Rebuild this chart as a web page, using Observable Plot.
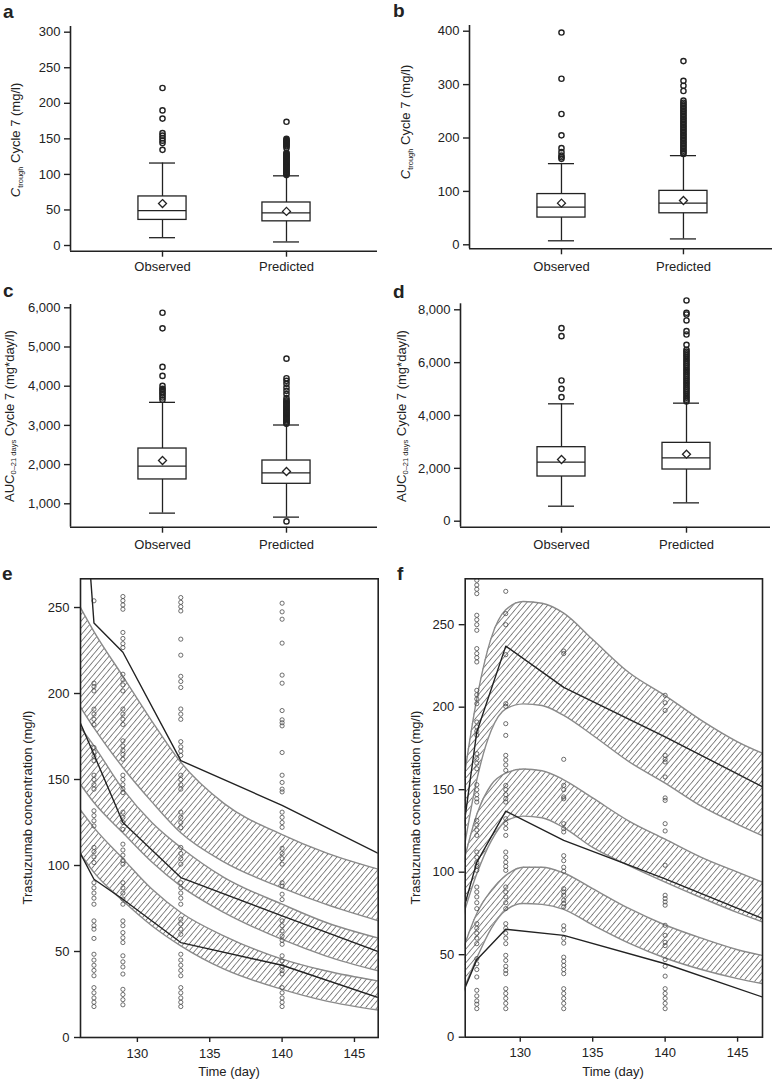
<!DOCTYPE html>
<html>
<head>
<meta charset="utf-8">
<script src="https://cdn.jsdelivr.net/npm/d3@7"></script>
<script src="https://cdn.jsdelivr.net/npm/@observablehq/plot@0.6"></script>
<style>
  body { margin: 0; background: #fff; }
  #wrap { position: relative; width: 777px; height: 1081px; overflow: hidden; background: #fff; }
</style>
</head>
<body>
<div id="wrap"></div>
<script>
// ---------------- DATA ----------------
const boxCats = ["Observed", "Predicted"];

// Panel a: Ctrough cycle 7 (mg/l), dose group 1
const aLo = [11, 5], aQ1 = [36, 34], aMed = [49, 46], aQ3 = [69, 60.5], aHi = [116, 98], aMean = [59, 48];
const aOutObs = [134.5, 144, 147.5, 151, 154.5, 158, 178.5, 190, 221.5];
const aOutPred = [99, 100.5, 102, 103.5, 105, 106.5, 108, 109.5, 111, 112.5, 114, 115.5, 117, 118.5, 120, 121.5, 123, 124.5, 126, 127.5, 129, 130.5, 137, 139.5, 141, 142.5, 144, 145.5, 147, 148.5, 150, 174];
const aTicks = [0, 50, 100, 150, 200, 250, 300];

// Panel b: Ctrough cycle 7 (mg/l), dose group 2
const bLo = [7.5, 11], bQ1 = [51, 59], bMed = [70.5, 78], bQ3 = [95, 101], bHi = [152, 167], bMean = [78, 83];
const bOutObs = [161, 164, 167, 173.5, 181, 205, 245, 311, 397.5];
const bOutPred = [170, 173, 176, 179, 182, 185, 188, 191, 194, 197, 200, 203, 206, 209, 212, 215, 218, 221, 224, 227, 230, 233, 236, 239, 242, 245, 248, 251, 254, 257, 260, 263, 266, 270, 288, 298, 307, 344];
const bTicks = [0, 100, 200, 300, 400];

// Panel c: AUC 0-21 days cycle 7 (mg*day/l), dose group 1
const cLo = [762, 660], cQ1 = [1621, 1510], cMed = [1960, 1790], cQ3 = [2410, 2104], cHi = [3588, 3010], cMean = [2104, 1824];
const cOutObs = [3653, 3712, 3763, 3814, 3850, 3907, 3934, 4008, 4263, 4492, 5475, 5873];
const cOutPred = [551, 3040, 3070, 3100, 3130, 3160, 3190, 3220, 3250, 3280, 3310, 3340, 3370, 3400, 3430, 3460, 3490, 3520, 3550, 3580, 3610, 3640, 3695, 3800, 3881, 3966, 4060, 4136, 4203, 4703];
const cTicks = [1000, 2000, 3000, 4000, 5000, 6000];

// Panel d: AUC 0-21 days cycle 7 (mg*day/l), dose group 2
const dLo = [568, 694], dQ1 = [1691, 1956], dMed = [2233, 2397], dQ3 = [2801, 2965], dHi = [4442, 4467], dMean = [2334, 2536];
const dOutObs = [4694, 5010, 5325, 7003, 7306];
const dOutPred = [4530, 4600, 4670, 4740, 4810, 4880, 4950, 5020, 5090, 5160, 5230, 5300, 5370, 5440, 5510, 5580, 5650, 5720, 5790, 5860, 5930, 6000, 6070, 6140, 6210, 6280, 6350, 6420, 6490, 6675, 7066, 7192, 7596, 7823, 7886, 8353];
const dTicks = [0, 2000, 4000, 6000, 8000];

// Panels e/f: visual predictive checks
const timeTicks = [130, 135, 140, 145];
const concTicks = [0, 50, 100, 150, 200, 250];
const obsLineDays = [126, 127, 129, 133, 140, 147];
const sampleDays = [127, 129, 133, 140];

// e: observed percentile lines
const eObs95 = [356, 241, 224, 161, 135, 105.5];
const eObs50 = [184, 164.5, 125, 93, 70.7, 48.8];
const eObs5 = [108, 92, 80.4, 55.2, 42, 22.2];
// e: prediction interval bands
const eBandDays = [126, 127, 129, 131, 133, 136, 140, 143, 147];
const eP95Hi = [251, 236, 210, 184, 160, 136, 118, 107.5, 97];
const eP95Lo = [193, 180, 157, 137, 119, 102, 87, 77.5, 67];
const eP50Hi = [181, 169.6, 144.4, 125, 110.5, 93, 77.5, 67, 57];
const eP50Lo = [148, 136.6, 119, 102, 88, 72.6, 57, 47.5, 38];
const eP5Hi = [133, 122, 104, 86.3, 72.7, 59, 45.6, 38.8, 32.4];
const eP5Lo = [107.6, 96, 79.5, 65, 53.3, 39.7, 28, 21.3, 15.5];
// e: observed concentrations
const eConc127 = [253.9, 206, 204, 201.5, 190.9, 188, 185, 182, 168.6, 166, 163.5, 160.9, 152.5, 150, 147, 144.4, 131.8, 129, 126, 123, 110.5, 108, 105, 101.7, 90, 87, 84, 81, 77.5, 67.8, 65, 63, 57.6, 48.4, 45, 42, 39, 35.9, 29, 26, 23, 20.5, 18];
const eConc129 = [256.4, 254, 251.5, 249, 235.5, 232, 229, 226.7, 211.2, 208, 205, 201.5, 191, 188, 185, 182, 172.5, 169.5, 167, 164.5, 161.8, 152.5, 150, 147, 144.5, 142.4, 131, 128, 125, 121, 112.4, 109, 106, 103, 100.8, 90, 87, 84, 80.5, 77.5, 67.8, 65, 61, 58, 55.2, 47.5, 44, 41, 36.9, 28, 25, 22, 19];
const eConc133 = [255.8, 253, 250.5, 248, 231.6, 222.3, 210, 207, 203.5, 191, 188, 185, 172, 169, 166.5, 164, 152.5, 150, 147, 144.4, 131, 128, 125, 122, 110.5, 107, 104, 100.8, 90, 87, 84, 81, 77.5, 68.8, 66, 63, 60, 48.4, 45, 42, 39, 35.9, 29, 26, 23, 20.5, 18];
const eConc140 = [252.5, 247.5, 243.2, 229.3, 210.7, 206, 190.1, 184.7, 183, 181.2, 165.7, 152.5, 148.3, 144.4, 142.8, 131, 128, 125, 122.2, 110, 107, 104, 100.8, 90, 88, 83.3, 80.2, 67.8, 65, 62, 59, 56.5, 54.2, 47.5, 44.5, 41.5, 39, 36.9, 29, 26, 23, 20.5, 18];

// f: observed percentile lines
const fObs95 = [121, 185, 237, 212, 182, 150.5];
const fObs50 = [75, 106, 137, 119.3, 96, 71];
const fObs5 = [26, 47, 65.4, 61.7, 44.5, 23.5];
// f: prediction interval bands
const fBandDays = [126, 127, 128, 129, 130.2, 131.5, 133, 135, 137.5, 140, 142.5, 145, 147];
const fP95Hi = [150, 205, 242, 259, 264, 263, 257, 241, 221, 207, 192, 179, 171];
const fP95Lo = [108, 156, 186, 199, 202, 201, 195, 183, 167, 154, 140, 129, 121];
const fP50Hi = [103, 135, 153, 160, 162.5, 161.5, 156, 145, 131, 120, 109, 100, 93];
const fP50Lo = [72, 99, 119, 131, 134, 133, 127, 115, 104, 94, 84.5, 75.5, 69];
const fP5Hi = [52, 75, 89, 98, 103, 103, 99.5, 90, 78, 68, 60, 53, 49];
const fP5Lo = [27, 48, 66, 77, 81, 80.5, 77.5, 68, 57, 48, 41, 35.5, 32];
// f: observed concentrations
const fConc127 = [276.9, 274, 271.5, 268.8, 255.7, 253, 250, 246.6, 235.5, 232.5, 230, 227.4, 210.2, 207.5, 205, 202.1, 191, 188, 185.5, 183, 171.8, 169, 166, 162.7, 153, 150, 147, 144.5, 142.5, 131.4, 128.5, 125.5, 122.3, 112.2, 109, 106, 103.5, 101.1, 91, 88, 85, 81.5, 77.9, 68.8, 66, 63, 60, 56.7, 47.6, 44.5, 41, 36.5, 28.4, 25, 22, 20, 17.3];
const fConc129 = [270.2, 256.7, 250, 231.8, 202.1, 200.5, 190, 182.9, 170.8, 168, 165, 161.7, 152.6, 150, 147, 144.5, 142.5, 132.4, 129.5, 126.5, 122.3, 112.2, 109, 106, 103.5, 101.1, 91, 88, 85, 81.5, 77.9, 68.8, 66, 63, 60, 56.7, 49.6, 46.5, 43, 40.5, 38.5, 29.4, 26.5, 23.5, 20.5, 17.3];
const fConc133 = [234, 232.5, 168.4, 152.6, 150, 145.6, 144.5, 129.4, 126.4, 124.4, 110, 107, 103, 100.5, 90, 88, 86, 83, 81, 79, 67.5, 65, 60, 57, 48.5, 46, 43.5, 41, 38.5, 29.4, 26.5, 23.5, 20.5, 17.3];
const fConc140 = [207.2, 202.7, 198, 170.8, 168.4, 166.8, 157.7, 145, 143.5, 129.4, 125, 104.2, 86, 84, 82, 80, 67.8, 61.7, 57.5, 55.5, 47, 43, 37, 29.4, 26.5, 23.5, 20.5, 17.3];

// ---------------- DRAWING ----------------
const FONT = '"Liberation Sans", Arial, Helvetica, sans-serif';
const INK = "#222";
const wrap = document.getElementById("wrap");
const NS = "http://www.w3.org/2000/svg";

function place(svg, left, top) {
  svg.style.position = "absolute";
  svg.style.left = left + "px";
  svg.style.top = top + "px";
  wrap.appendChild(svg);
}

function boxPanel(p) {
  const stats = boxCats.map((cat, i) => ({
    i, lo: p.lo[i], q1: p.q1[i], med: p.med[i], q3: p.q3[i], hi: p.hi[i], mean: p.mean[i]
  }));
  const outs = [...p.outObs.map(v => ({i: 0, v})), ...p.outPred.map(v => ({i: 1, v}))];
  const hw = p.boxHalf, cw = p.capHalf;
  const svg = Plot.plot({
    width: p.width, height: p.height,
    marginLeft: p.mL, marginRight: p.mR, marginTop: p.mT, marginBottom: p.mB,
    style: {fontFamily: FONT, fontSize: "13px", color: INK, background: "transparent", overflow: "visible"},
    x: {type: "linear", domain: p.xDomain},
    y: {type: "linear", domain: p.yDomain},
    marks: [
      Plot.ruleY([p.yDomain[0]], {stroke: INK, strokeWidth: 1.6}),
      Plot.ruleX([p.xDomain[0]], {stroke: INK, strokeWidth: 1.6}),
      Plot.axisY({ticks: p.yTicks, tickFormat: p.fmt, tickSize: 6, tickPadding: 4, strokeWidth: 1.4, label: null}),
      Plot.axisX({ticks: [0, 1], tickFormat: i => boxCats[i], tickSize: 6, tickPadding: p.xPad, strokeWidth: 1.4, label: null}),
      Plot.ruleX(stats, {x: "i", y1: "lo", y2: "hi", stroke: INK, strokeWidth: 1.3}),
      Plot.ruleY(stats, {y: "lo", x1: d => d.i - cw, x2: d => d.i + cw, stroke: INK, strokeWidth: 1.3}),
      Plot.ruleY(stats, {y: "hi", x1: d => d.i - cw, x2: d => d.i + cw, stroke: INK, strokeWidth: 1.3}),
      Plot.rect(stats, {x1: d => d.i - hw, x2: d => d.i + hw, y1: "q1", y2: "q3", fill: "white", stroke: INK, strokeWidth: 1.3}),
      Plot.ruleY(stats, {y: "med", x1: d => d.i - hw, x2: d => d.i + hw, stroke: INK, strokeWidth: 1.3}),
      Plot.dot(outs, {x: "i", y: "v", r: 2.6, stroke: INK, strokeWidth: 1.4, fill: "none"}),
      Plot.dot(stats, {x: "i", y: "mean", symbol: "diamond2", r: 3.6, fill: "white", stroke: INK, strokeWidth: 1.3})
    ]
  });
  place(svg, p.left, p.top);
}

function vpcPanel(p) {
  const bands = [[p.b95lo, p.b95hi], [p.b50lo, p.b50hi], [p.b5lo, p.b5hi]]
    .map(([lo, hi]) => p.bandDays.map((d, j) => ({d, lo: lo[j], hi: hi[j]})));
  const pts = sampleDays.flatMap((d, k) => p.conc[k].map(v => ({d, v})));
  const lines = [p.l95, p.l50, p.l5].map(vals => obsLineDays.map((d, j) => ({d, v: vals[j]})));
  const marks = [];
  for (const bd of bands) {
    marks.push(Plot.areaY(bd, {x: "d", y1: "lo", y2: "hi", fill: `url(#${p.hatchId})`, curve: "monotone-x", clip: true}));
    marks.push(Plot.lineY(bd, {x: "d", y: "lo", stroke: "#8a8a8a", strokeWidth: 1.4, curve: "monotone-x", clip: true}));
    marks.push(Plot.lineY(bd, {x: "d", y: "hi", stroke: "#8a8a8a", strokeWidth: 1.4, curve: "monotone-x", clip: true}));
  }
  marks.push(Plot.dot(pts, {x: "d", y: "v", r: 2.1, stroke: "#4a4a4a", strokeWidth: 0.8, fill: "none", clip: true}));
  for (const ln of lines) marks.push(Plot.line(ln, {x: "d", y: "v", stroke: INK, strokeWidth: 1.4, clip: true}));
  marks.push(Plot.frame({stroke: INK, strokeWidth: 1.6}));
  marks.push(Plot.axisY({ticks: concTicks, tickSize: 6, tickPadding: 5, strokeWidth: 1.4, label: null}));
  marks.push(Plot.axisX({ticks: timeTicks, tickSize: 5, tickPadding: 6, strokeWidth: 1.4, label: null}));
  const svg = Plot.plot({
    width: p.width, height: p.height,
    marginLeft: p.mL, marginRight: p.mR, marginTop: p.mT, marginBottom: p.mB,
    style: {fontFamily: FONT, fontSize: "13px", color: INK, background: "transparent", overflow: "visible"},
    x: {type: "linear", domain: p.xDomain},
    y: {type: "linear", domain: p.yDomain},
    marks
  });
  // hatch pattern
  const defs = document.createElementNS(NS, "defs");
  const pat = document.createElementNS(NS, "pattern");
  pat.setAttribute("id", p.hatchId);
  pat.setAttribute("patternUnits", "userSpaceOnUse");
  pat.setAttribute("width", "4.4");
  pat.setAttribute("height", "10");
  pat.setAttribute("patternTransform", "rotate(40)");
  const ln = document.createElementNS(NS, "line");
  ln.setAttribute("x1", "2.2"); ln.setAttribute("x2", "2.2");
  ln.setAttribute("y1", "-1"); ln.setAttribute("y2", "11");
  ln.setAttribute("stroke", "#7a7a7a");
  ln.setAttribute("stroke-width", "0.9");
  pat.appendChild(ln);
  defs.appendChild(pat);
  svg.insertBefore(defs, svg.firstChild);
  place(svg, p.left, p.top);
}

const fmtComma = d3.format(",");

boxPanel({left: 0, top: 0, width: 390, height: 280, mL: 70, mR: 13, mT: 26, mB: 29.3,
  xDomain: [-0.742, 1.734], yDomain: [-8, 308], yTicks: aTicks, fmt: d3.format("d"), xPad: 5,
  boxHalf: 0.194, capHalf: 0.105,
  lo: aLo, q1: aQ1, med: aMed, q3: aQ3, hi: aHi, mean: aMean, outObs: aOutObs, outPred: aOutPred});

boxPanel({left: 390, top: 0, width: 387, height: 280, mL: 79, mR: 5, mT: 25, mB: 31.7,
  xDomain: [-0.754, 1.73], yDomain: [-7.5, 410.7], yTicks: bTicks, fmt: d3.format("d"), xPad: 7,
  boxHalf: 0.197, capHalf: 0.107,
  lo: bLo, q1: bQ1, med: bMed, q3: bQ3, hi: bHi, mean: bMean, outObs: bOutObs, outPred: bOutPred});

boxPanel({left: 0, top: 280, width: 390, height: 285, mL: 70, mR: 13, mT: 24, mB: 38.3,
  xDomain: [-0.742, 1.734], yDomain: [403, 6084], yTicks: cTicks, fmt: fmtComma, xPad: 7,
  boxHalf: 0.194, capHalf: 0.105,
  lo: cLo, q1: cQ1, med: cMed, q3: cQ3, hi: cHi, mean: cMean, outObs: cOutObs, outPred: cOutPred});

boxPanel({left: 390, top: 280, width: 387, height: 285, mL: 70, mR: 7, mT: 23.3, mB: 38.3,
  xDomain: [-0.808, 1.672], yDomain: [-227, 8227], yTicks: dTicks, fmt: fmtComma, xPad: 7,
  boxHalf: 0.192, capHalf: 0.104,
  lo: dLo, q1: dQ1, med: dMed, q3: dQ3, hi: dHi, mean: dMean, outObs: dOutObs, outPred: dOutPred});

vpcPanel({left: 0, top: 550, width: 390, height: 531, mL: 80, mR: 12.3, mT: 28.3, mB: 44,
  xDomain: [126.07, 146.64], yDomain: [0, 266.7], hatchId: "hatchE",
  bandDays: eBandDays, b95lo: eP95Lo, b95hi: eP95Hi, b50lo: eP50Lo, b50hi: eP50Hi, b5lo: eP5Lo, b5hi: eP5Hi,
  l95: eObs95, l50: eObs50, l5: eObs5, conc: [eConc127, eConc129, eConc133, eConc140]});

vpcPanel({left: 390, top: 550, width: 387, height: 531, mL: 74.7, mR: 15, mT: 28.3, mB: 44.3,
  xDomain: [126.2, 146.72], yDomain: [0, 277.8], hatchId: "hatchF",
  bandDays: fBandDays, b95lo: fP95Lo, b95hi: fP95Hi, b50lo: fP50Lo, b50hi: fP50Hi, b5lo: fP5Lo, b5hi: fP5Hi,
  l95: fObs95, l50: fObs50, l5: fObs5, conc: [fConc127, fConc129, fConc133, fConc140]});

// ---------------- LABELS ----------------
const ctroughLabel = (cx, cy) => `<text transform="translate(${cx},${cy}) rotate(-90)" text-anchor="middle" dy="0.35em" font-size="13"><tspan font-style="italic">C</tspan><tspan font-size="7.5" dy="2.5">trough</tspan><tspan dy="-2.5"> Cycle 7 (mg/l)</tspan></text>`;
const aucLabel = (cx, cy) => `<text transform="translate(${cx},${cy}) rotate(-90)" text-anchor="middle" dy="0.35em" font-size="13">AUC<tspan font-size="7.5" dy="2.5">0–21 days</tspan><tspan dy="-2.5"> Cycle 7 (mg*day/l)</tspan></text>`;
const concLabel = (cx, cy) => `<text transform="translate(${cx},${cy}) rotate(-90)" text-anchor="middle" dy="0.35em" font-size="13">Trastuzumab concentration (mg/l)</text>`;

const overlay = `<svg xmlns="${NS}" width="777" height="1081" style="position:absolute;left:0;top:0;pointer-events:none" font-family='${FONT}' fill="${INK}">
  <g font-size="19" font-weight="bold">
    <text x="3" y="18">a</text>
    <text x="393" y="17">b</text>
    <text x="3" y="297">c</text>
    <text x="393" y="298">d</text>
    <text x="2" y="580">e</text>
    <text x="397" y="580">f</text>
  </g>
  ${ctroughLabel(15.5, 140)}
  ${ctroughLabel(405.5, 122)}
  ${aucLabel(9, 416)}
  ${aucLabel(401, 416)}
  ${concLabel(27, 807.5)}
  ${concLabel(415, 807.5)}
  <text x="229" y="1076" text-anchor="middle" font-size="13">Time (day)</text>
  <text x="613" y="1076" text-anchor="middle" font-size="13">Time (day)</text>
</svg>`;
wrap.insertAdjacentHTML("beforeend", overlay);
</script>
</body>
</html>
